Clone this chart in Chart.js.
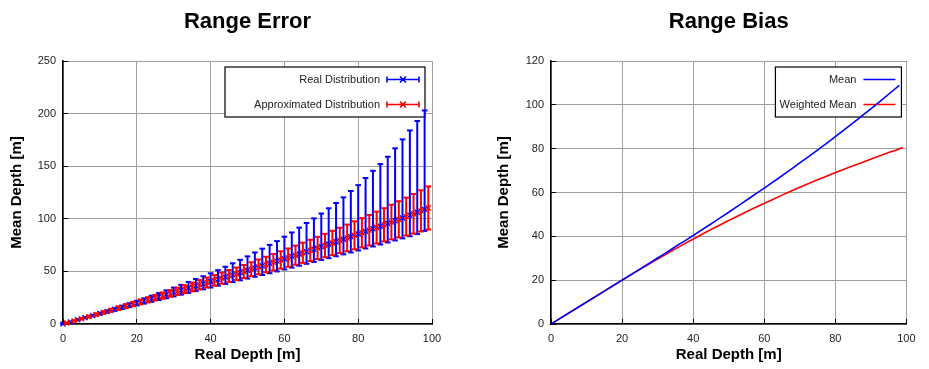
<!DOCTYPE html>
<html>
<head>
<meta charset="utf-8">
<script src="https://cdn.jsdelivr.net/npm/chart.js@4.4.1/dist/chart.umd.min.js"></script>
<style>
html, body { margin: 0; padding: 0; background: #fff; }
#wrap { position: relative; width: 929px; height: 369px; }
#wrap canvas { position: absolute; top: 0; }
</style>
</head>
<body>
<div id="wrap">
  <canvas id="errorChart" width="465" height="369" style="left:0"></canvas>
  <canvas id="biasChart" width="464" height="369" style="left:465px"></canvas>
</div>
<script>
// Real distribution, sampled at even depths
const realX = [0, 2, 4, 6, 8, 10, 12, 14, 16, 18, 20, 22, 24, 26, 28, 30, 32, 34, 36, 38,
  40, 42, 44, 46, 48, 50, 52, 54, 56, 58, 60, 62, 64, 66, 68, 70, 72, 74, 76, 78,
  80, 82, 84, 86, 88, 90, 92, 94, 96, 98];
const realMean = [0, 2, 4, 6, 8, 10, 12, 14, 16, 18, 20, 22, 24, 26, 28.1, 30.1, 32.1, 34.2, 36.3, 38.3,
  40.4, 42.5, 44.6, 46.7, 48.9, 51, 53.2, 55.4, 57.6, 59.8, 62, 64.3, 66.5, 68.8, 71.1, 73.5, 75.8, 78.2, 80.6, 83,
  85.5, 88, 90.5, 93, 95.6, 98.2, 100.8, 103.5, 106.2, 108.9];
const realLow = [0, 1.8, 3.6, 5.4, 7.2, 9, 10.7, 12.5, 14.2, 16, 17.7, 19.4, 21.1, 22.8, 24.5, 26.2, 27.9, 29.6, 31.3, 33,
  34.7, 36.4, 38.1, 39.8, 41.5, 43.2, 44.9, 46.6, 48.3, 50, 51.8, 53.6, 55.4, 57.2, 59, 60.8, 62.6, 64.4, 66.2, 68,
  69.9, 71.8, 73.7, 75.6, 77.5, 79.4, 81.4, 83.4, 85.5, 88.5];
const realHigh = [0.3, 2.3, 4.4, 6.5, 8.6, 10.8, 13, 15.2, 17.4, 19.7, 22, 24.4, 26.9, 29.4, 32, 34.6, 37.2, 40, 42.8, 45.4,
  48.2, 51.2, 54.4, 57.7, 61, 64.3, 68, 71.6, 75.2, 78.8, 83, 87, 91.6, 96, 100.4, 105, 110, 115, 120.4, 126.4,
  132, 138.8, 145.6, 152, 159, 167, 175.5, 184, 193, 203];

// Approximated distribution, sampled at odd depths
const approxX = [1, 3, 5, 7, 9, 11, 13, 15, 17, 19, 21, 23, 25, 27, 29, 31, 33, 35, 37, 39,
  41, 43, 45, 47, 49, 51, 53, 55, 57, 59, 61, 63, 65, 67, 69, 71, 73, 75, 77, 79,
  81, 83, 85, 87, 89, 91, 93, 95, 97, 99];
const approxMean = [1, 3, 5, 7, 9, 11, 13, 15, 17, 19, 21, 23, 25, 27, 29.1, 31.1, 33.1, 35.2, 37.3, 39.4,
  41.5, 43.6, 45.7, 47.8, 49.9, 52.1, 54.3, 56.5, 58.7, 60.9, 63.1, 65.4, 67.7, 70, 72.3, 74.6, 77, 79.4, 81.8, 84.3,
  86.7, 89.2, 91.7, 94.3, 96.9, 99.5, 102.1, 104.8, 107.5, 110.3];
const approxErr = [0.3, 0.5, 0.7, 0.9, 1.1, 1.3, 1.5, 1.7, 1.9, 2.1, 2.3, 2.5, 2.7, 3, 3.2, 3.5, 3.8, 4.1, 4.4, 4.7,
  5, 5.3, 5.6, 5.9, 6.2, 6.6, 7, 7.4, 7.8, 8.2, 8.7, 9.1, 9.6, 10.1, 10.6, 11.1, 11.6, 12.1, 12.7, 13.3,
  13.9, 14.5, 15.1, 15.8, 16.5, 17.2, 18, 18.8, 19.6, 20.5];
const weightedMean = [1, 3, 5, 7, 9, 11, 13, 15, 17, 19, 21, 23, 24.9, 26.8, 28.7, 30.6, 32.5, 34.3, 36.1, 37.9,
  39.6, 41.4, 43.1, 44.7, 46.4, 48, 49.6, 51.2, 52.8, 54.3, 55.8, 57.3, 58.8, 60.2, 61.7, 63.1, 64.4, 65.8, 67.1, 68.4,
  69.7, 70.9, 72.2, 73.4, 74.6, 75.8, 77, 78.2, 79.3, 80.5];

const xTicks = [0, 20, 40, 60, 80, 100];
const errorTicks = [0, 50, 100, 150, 200, 250];
const biasTicks = [0, 20, 40, 60, 80, 100, 120];

const BLUE = '#0000ff';
const RED = '#ff0000';

Chart.defaults.font.family = '"Liberation Sans", Arial, sans-serif';
Chart.defaults.color = '#222';

const approxLow = approxMean.map((m, i) => m - approxErr[i]);
const approxHigh = approxMean.map((m, i) => m + approxErr[i]);

function barSegments(xs, lows, highs) {
    const pts = [];
    xs.forEach((x, i) => { pts.push({ x, y: lows[i] }, { x, y: highs[i] }, { x, y: null }); });
    return pts;
}
function capPoints(xs, lows, highs) {
    return xs.flatMap((x, i) => [{ x, y: lows[i] }, { x, y: highs[i] }]);
}
function points(xs, ys) { return xs.map((x, i) => ({ x, y: ys[i] })); }

function errorDatasets(xs, means, lows, highs, color, order) {
    return [
        { data: barSegments(xs, lows, highs), showLine: true, spanGaps: false, borderColor: color,
          borderWidth: 2, pointRadius: 0, order, clip: false },
        { data: capPoints(xs, lows, highs), showLine: false, pointStyle: 'line', pointRadius: 2.8,
          borderColor: color, pointBorderWidth: 2, order, clip: false },
        { data: points(xs, means), showLine: false, pointStyle: 'crossRot', pointRadius: 3.5,
          borderColor: color, pointBorderWidth: 1.3, order, clip: false }
    ];
}

// legend box drawn inside the plot, under the data
const insideLegend = {
    id: 'insideLegend',
    beforeDatasetsDraw(chart, args, opts) {
        const { ctx, chartArea } = chart;
        const right = chartArea.right - opts.gap;
        const left = right - opts.width;
        const top = chartArea.top + 6;
        ctx.save();
        ctx.fillStyle = '#fff';
        ctx.fillRect(left, top, opts.width, 50);
        ctx.strokeStyle = '#000';
        ctx.lineWidth = 1.2;
        ctx.strokeRect(left, top, opts.width, 50);
        ctx.font = '11px "Liberation Sans", Arial, sans-serif';
        ctx.textAlign = 'right';
        ctx.textBaseline = 'middle';
        opts.items.forEach((item, i) => {
            const y = top + 12.5 + i * 25;
            ctx.fillStyle = '#222';
            ctx.fillText(item.text, right - 45, y);
            const x1 = right - 38, x2 = right - 6, xm = (x1 + x2) / 2;
            ctx.strokeStyle = item.color;
            ctx.lineWidth = 1.6;
            ctx.beginPath();
            ctx.moveTo(x1, y); ctx.lineTo(x2, y);
            if (item.errorBar) {
                ctx.moveTo(x1, y - 3); ctx.lineTo(x1, y + 3);
                ctx.moveTo(x2, y - 3); ctx.lineTo(x2, y + 3);
                ctx.moveTo(xm - 3, y - 3); ctx.lineTo(xm + 3, y + 3);
                ctx.moveTo(xm + 3, y - 3); ctx.lineTo(xm - 3, y + 3);
            }
            ctx.stroke();
        });
        ctx.restore();
    }
};

function xAxis(ticks) {
    return {
        type: 'linear', min: ticks[0], max: ticks[ticks.length - 1],
        ticks: { stepSize: ticks[1] - ticks[0], font: { size: 11 }, padding: 13.4 },
        grid: { color: '#a0a0a0', tickLength: -5, tickColor: '#000' },
        border: { color: '#000', width: 1.5 },
        title: { display: true, text: 'Real Depth [m]', color: '#000',
                 font: { size: 15, weight: 'bold' }, padding: { top: 0, bottom: 5 } },
        afterFit: s => { s.height = 45; }
    };
}
function yAxis(ticks, width) {
    return {
        type: 'linear', min: ticks[0], max: ticks[ticks.length - 1],
        ticks: { stepSize: ticks[1] - ticks[0], font: { size: 11 }, padding: 12 },
        grid: { color: '#a0a0a0', tickLength: -5, tickColor: '#000' },
        border: { color: '#000', width: 1.5 },
        title: { display: true, text: 'Mean Depth [m]', color: '#000',
                 font: { size: 15, weight: 'bold' }, padding: { top: 8, bottom: 0 } },
        afterFit: s => { s.width = width; }
    };
}
function titleOpts(text) {
    return { display: true, text, fullSize: false, color: '#000',
             font: { size: 22, weight: 'bold' }, padding: { top: 9, bottom: 25.6 } };
}

new Chart(document.getElementById('errorChart'), {
    type: 'scatter',
    data: {
        datasets: [
            ...errorDatasets(realX, realMean, realLow, realHigh, BLUE, 2),
            ...errorDatasets(approxX, approxMean, approxLow, approxHigh, RED, 1)
        ]
    },
    options: {
        responsive: false, animation: false, devicePixelRatio: 1,
        layout: { padding: { left: 0, right: 33, top: 0, bottom: 0 } },
        plugins: {
            legend: { display: false }, tooltip: { enabled: false },
            title: titleOpts('Range Error'),
            insideLegend: { gap: 7, width: 200, items: [
                { text: 'Real Distribution', color: BLUE, errorBar: true },
                { text: 'Approximated Distribution', color: RED, errorBar: true }
            ] }
        },
        scales: { x: xAxis(xTicks), y: yAxis(errorTicks, 63) }
    },
    plugins: [insideLegend]
});

new Chart(document.getElementById('biasChart'), {
    type: 'scatter',
    data: {
        datasets: [
            { data: points(realX, realMean), showLine: true, borderColor: BLUE, borderWidth: 1.6,
              pointRadius: 0, order: 1 },
            { data: [{ x: 0, y: 0 }, ...points(approxX, weightedMean)], showLine: true, borderColor: RED,
              borderWidth: 1.6, pointRadius: 0, order: 2 }
        ]
    },
    options: {
        responsive: false, animation: false, devicePixelRatio: 1,
        layout: { padding: { left: 22, right: 10, top: 0, bottom: 0 } },
        plugins: {
            legend: { display: false }, tooltip: { enabled: false },
            title: titleOpts('Range Bias'),
            insideLegend: { gap: 5, width: 126, items: [
                { text: 'Mean', color: BLUE },
                { text: 'Weighted Mean', color: RED }
            ] }
        },
        scales: { x: xAxis(xTicks), y: yAxis(biasTicks, 64) }
    },
    plugins: [insideLegend]
});
</script>
</body>
</html>
